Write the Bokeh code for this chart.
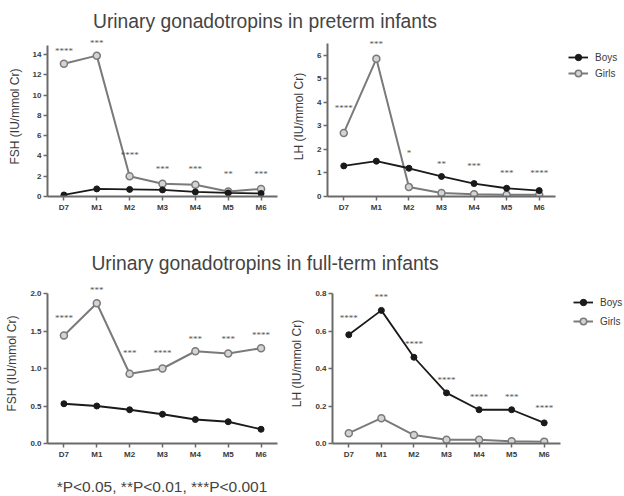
from bokeh.plotting import figure
from bokeh.models import (ColumnDataSource, FactorRange, Range1d, FixedTicker,
                          NumeralTickFormatter, Legend, LegendItem, LabelSet, Div)
from bokeh.layouts import column, row
from bokeh.embed import file_html
from bokeh.resources import INLINE

# ---------------- data ----------------
categories = ["D7", "M1", "M2", "M3", "M4", "M5", "M6"]

fsh_pre_boys = [0.15, 0.75, 0.7, 0.65, 0.45, 0.35, 0.3]
fsh_pre_girls = [13.1, 13.9, 2.0, 1.25, 1.15, 0.5, 0.75]
fsh_pre_sig = ["****", "***", "****", "***", "***", "**", "***"]
fsh_pre_sig_y = [14.4, 15.1, 4.1, 2.7, 2.7, 2.2, 2.2]

lh_pre_boys = [1.3, 1.5, 1.2, 0.85, 0.55, 0.35, 0.25]
lh_pre_girls = [2.7, 5.85, 0.4, 0.15, 0.1, 0.07, 0.07]
lh_pre_sig = ["****", "***", "*", "**", "***", "***", "****"]
lh_pre_sig_y = [3.75, 6.47, 1.83, 1.4, 1.28, 0.98, 0.98]

fsh_full_boys = [0.53, 0.5, 0.45, 0.39, 0.32, 0.29, 0.19]
fsh_full_girls = [1.44, 1.87, 0.93, 1.0, 1.23, 1.2, 1.27]
fsh_full_sig = ["****", "***", "***", "****", "***", "***", "****"]
fsh_full_sig_y = [1.67, 2.05, 1.21, 1.21, 1.4, 1.4, 1.45]

lh_full_boys = [0.58, 0.71, 0.46, 0.27, 0.18, 0.18, 0.11]
lh_full_girls = [0.055, 0.135, 0.045, 0.02, 0.02, 0.012, 0.01]
lh_full_sig = ["****", "***", "****", "****", "****", "***", "****"]
lh_full_sig_y = [0.667, 0.78, 0.533, 0.34, 0.25, 0.25, 0.187]

ticks_fsh_pre = [0, 2, 4, 6, 8, 10, 12, 14]
ticks_lh_pre = [0, 1, 2, 3, 4, 5, 6]
ticks_fsh_full = [0.0, 0.5, 1.0, 1.5, 2.0]
ticks_lh_full = [0.0, 0.2, 0.4, 0.6, 0.8]

axis_max_fsh_pre = 14.9
axis_max_lh_pre = 6.5
axis_max_fsh_full = 2.0
axis_max_lh_full = 0.8

series_names = ["Boys", "Girls"]
title_pre = "Urinary gonadotropins in preterm infants"
title_full = "Urinary gonadotropins in full-term infants"
footnote = "*P&lt;0.05, **P&lt;0.01, ***P&lt;0.001"

FONT = "Liberation Sans"
AXIS_COL = "#6a6a6a"
TEXT_COL = "#3a3a3a"
BOYS_COL = "#1a1a1a"
GIRLS_COL = "#7a7a7a"


def panel(ylabel, boys, girls, sig_text, sig_y, axis_max, headroom, ticks, fmt,
          frame_w, frame_h, b_top, b_left, b_right, b_bottom, legend_cfg=None):
    p = figure(x_range=FactorRange(factors=categories),
               y_range=Range1d(0, axis_max * headroom),
               frame_width=frame_w, frame_height=frame_h,
               min_border_top=b_top, min_border_left=b_left,
               min_border_right=b_right, min_border_bottom=b_bottom,
               output_backend="svg", toolbar_location=None)
    p.outline_line_color = None
    p.xgrid.visible = False
    p.ygrid.visible = False
    p.background_fill_color = "white"
    p.border_fill_color = "white"

    src = ColumnDataSource(dict(x=categories, boys=boys, girls=girls))
    lg = p.line("x", "girls", source=src, line_color=GIRLS_COL, line_width=2)
    sg = p.scatter("x", "girls", source=src, marker="circle", size=7,
                   line_color=GIRLS_COL, line_width=1.5, fill_color="#d4d4d4")
    lb = p.line("x", "boys", source=src, line_color=BOYS_COL, line_width=1.8)
    sb = p.scatter("x", "boys", source=src, marker="circle", size=6,
                   line_color=BOYS_COL, fill_color=BOYS_COL)

    ssrc = ColumnDataSource(dict(x=categories, y=sig_y, t=sig_text))
    labels = LabelSet(x="x", y="y", text="t", source=ssrc, text_align="center",
                      text_baseline="middle", text_font_size="9px",
                      text_color="#555555", text_font=FONT)
    p.add_layout(labels)

    for ax in (p.xaxis[0], p.yaxis[0]):
        ax.axis_line_color = AXIS_COL
        ax.axis_line_width = 2
        ax.major_tick_line_color = AXIS_COL
        ax.major_tick_line_width = 1.5
        ax.major_tick_in = 0
        ax.major_tick_out = 4
        ax.minor_tick_line_color = None
        ax.major_label_text_font = FONT
        ax.major_label_text_font_size = "8px"
        ax.major_label_text_font_style = "bold"
        ax.major_label_text_color = TEXT_COL
        ax.major_label_standoff = 2
    p.yaxis.bounds = (0, axis_max)
    p.yaxis.ticker = FixedTicker(ticks=ticks)
    p.yaxis.formatter = NumeralTickFormatter(format=fmt)
    p.yaxis.axis_label = ylabel
    p.yaxis.axis_label_text_font = FONT
    p.yaxis.axis_label_text_font_size = "12px"
    p.yaxis.axis_label_text_font_style = "normal"
    p.yaxis.axis_label_text_color = TEXT_COL
    p.yaxis.axis_label_standoff = 8

    if legend_cfg is not None:
        loc, spacing = legend_cfg
        legend = Legend(items=[LegendItem(label=series_names[0], renderers=[lb, sb]),
                               LegendItem(label=series_names[1], renderers=[lg, sg])],
                        location=loc, spacing=spacing, padding=0, margin=0,
                        glyph_width=20, glyph_height=16, label_height=16,
                        label_standoff=7, border_line_color=None,
                        background_fill_alpha=0, label_text_font=FONT,
                        label_text_font_size="10px", label_text_color=TEXT_COL)
        p.add_layout(legend, "right")
    return p


# frame 36..196 (160 px); axis drawn only up to axis_max
pA = panel("FSH (IU/mmol Cr)", fsh_pre_boys, fsh_pre_girls, fsh_pre_sig, fsh_pre_sig_y,
           axis_max_fsh_pre, 160 / 151.0, ticks_fsh_pre, "0", 230, 160, 4, 47, 10, 38)
pB = panel("LH (IU/mmol Cr)", lh_pre_boys, lh_pre_girls, lh_pre_sig, lh_pre_sig_y,
           axis_max_lh_pre, 160 / 153.0, ticks_lh_pre, "0", 228, 160, 4, 40, 69, 38,
           legend_cfg=((13, 115), 0))
pC = panel("FSH (IU/mmol Cr)", fsh_full_boys, fsh_full_girls, fsh_full_sig, fsh_full_sig_y,
           axis_max_fsh_full, 160 / 150.0, ticks_fsh_full, "0.0", 230, 160, 5, 47, 10, 35)
pD = panel("LH (IU/mmol Cr)", lh_full_boys, lh_full_girls, lh_full_sig, lh_full_sig_y,
           axis_max_lh_full, 160 / 150.0, ticks_lh_full, "0.0", 228, 160, 5, 40, 69, 35,
           legend_cfg=((13, 114), 3))

title_style = {"text-align": "center", "font-family": FONT, "font-size": "19.3px",
               "color": "#444444"}
d1 = Div(text=title_pre, width=530, height=32, margin=(0, 0, 0, 0),
         styles=dict(title_style, **{"line-height": "44px"}))
d2 = Div(text=title_full, width=530, height=44, margin=(0, 0, 0, 0),
         styles=dict(title_style, **{"line-height": "60px"}))
d3 = Div(text=footnote, width=324, height=18, margin=(0, 0, 0, 0),
         styles={"text-align": "center", "font-family": FONT, "font-size": "15.5px",
                 "color": "#444444", "line-height": "18px"})

layout = column(d1, row(pA, pB), d2, row(pC, pD), d3)

open("out.html", "w").write(file_html(layout, INLINE))
